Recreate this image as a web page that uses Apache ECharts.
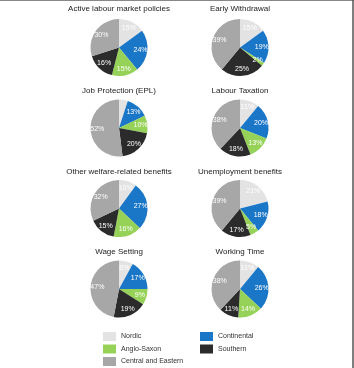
<!DOCTYPE html>
<html lang="en">
<head>
    <meta charset="UTF-8">
    <title>Policy areas by country group</title>
    <script src="https://cdn.jsdelivr.net/npm/echarts@6/dist/echarts.min.js"></script>
    <style>
        html, body { margin: 0; padding: 0; background: #fff; }
    </style>
</head>
<body>
<div id="main" style="width: 354px;height:368px;"></div>
<script type="text/javascript">
    // country groups, in the order the slices go round (clockwise from 12 o'clock)
    var groups = ['Nordic', 'Continental', 'Anglo-Saxon', 'Southern', 'Central and Eastern'];
    var groupColors = ['#e3e3e3', '#1a76c6', '#96d258', '#2b2b2b', '#a7a7a7'];

    var panelTitles = [
        'Active labour market policies', 'Early Withdrawal',
        'Job Protection (EPL)', 'Labour Taxation',
        'Other welfare-related benefits', 'Unemployment benefits',
        'Wage Setting', 'Working Time'
    ];

    // shares in %, per panel: Nordic, Continental, Anglo-Saxon, Southern, Central and Eastern
    var almp        = [15, 24, 15, 16, 30];
    var earlyWith   = [15, 19, 2, 25, 39];
    var jobProt     = [5, 13, 10, 20, 52];
    var labourTax   = [11, 20, 13, 18, 38];
    var otherWelf   = [10, 27, 16, 15, 32];
    var unemplBen   = [21, 18, 5, 17, 39];
    var wageSet     = [8, 17, 9, 19, 47];
    var workTime    = [11, 26, 14, 11, 38];
    var panelData = [almp, earlyWith, jobProt, labourTax, otherWelf, unemplBen, wageSet, workTime];

    var myChart = echarts.init(document.getElementById('main'));

    var colX = [119, 240];
    var rowY = [47.5, 128, 208.5, 289];
    var titleY = [4.5, 86.5, 167.5, 247.5];

    var titles = [];
    var series = [];
    for (var i = 0; i < panelData.length; i++) {
        var c = i % 2, r = Math.floor(i / 2);
        titles.push({
            text: panelTitles[i],
            left: colX[c],
            top: titleY[r],
            padding: 0,
            textAlign: 'center',
            textStyle: { fontFamily: 'Liberation Sans', fontSize: 8, fontWeight: 'normal', color: '#222' }
        });
        var d = [];
        for (var k = 0; k < groups.length; k++) {
            d.push({ name: groups[k], value: panelData[i][k] });
        }
        // the slices
        series.push({
            type: 'pie',
            center: [colX[c], rowY[r]],
            radius: 28.5,
            startAngle: 90,
            silent: true,
            label: { show: false },
            labelLine: { show: false },
            itemStyle: { borderWidth: 0 },
            data: d
        });
        // same data again, transparent, only so the % labels sit a bit further out
        series.push({
            type: 'pie',
            center: [colX[c], rowY[r]],
            radius: [9, 28.5],
            startAngle: 90,
            silent: true,
            label: {
                show: true,
                position: 'inside',
                formatter: '{c}%',
                color: '#fff',
                fontFamily: 'Liberation Sans',
                fontSize: 7
            },
            labelLine: { show: false },
            itemStyle: { color: 'rgba(0,0,0,0)', borderWidth: 0 },
            data: d
        });
    }

    var legendText = { fontFamily: 'Liberation Sans', fontSize: 7, color: '#333' };
    var legendBase = {
        orient: 'vertical',
        top: 332,
        padding: 0,
        itemWidth: 13,
        itemHeight: 9,
        itemGap: 3.5,
        icon: 'rect',
        selectedMode: false,
        textStyle: legendText
    };
    var option = {
        animation: false,
        color: groupColors,
        title: titles,
        legend: [
            Object.assign({}, legendBase, { left: 103, data: ['Nordic', 'Anglo-Saxon', 'Central and Eastern'] }),
            Object.assign({}, legendBase, { left: 200, data: ['Continental', 'Southern'] })
        ],
        graphic: [
            { type: 'line', shape: { x1: 0, y1: 0.5, x2: 354, y2: 0.5 }, style: { stroke: '#888', lineWidth: 1 } },
            { type: 'line', shape: { x1: 353, y1: 0, x2: 353, y2: 368 }, style: { stroke: '#555', lineWidth: 1.5 } }
        ],
        series: series
    };

    myChart.setOption(option);
</script>
</body>
</html>
